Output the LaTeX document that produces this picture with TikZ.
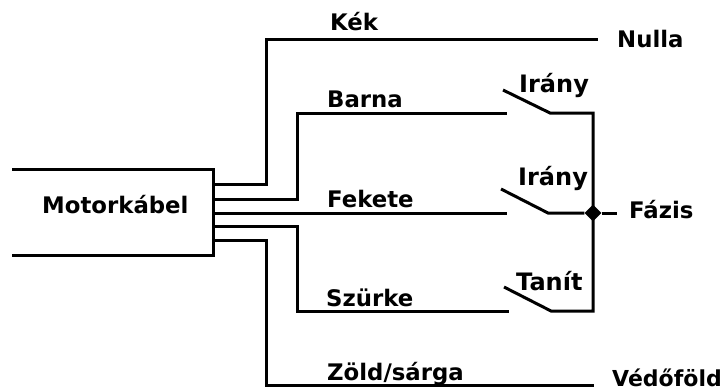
\documentclass[tikz,border=0pt]{standalone}
\usepackage{fontspec}
\setmainfont{DejaVu Sans}
\usetikzlibrary{shapes.geometric}
\tikzset{
    wire/.style={line width=3pt, line join=miter},
    lbl/.style={font=\fontsize{22.8}{26}\selectfont\bfseries, inner sep=0pt, anchor=base west},
    swlbl/.style={font=\fontsize{24}{28}\selectfont\bfseries, inner sep=0pt, anchor=base west},
    junction/.style={diamond, aspect=1, fill=black, inner sep=0pt, minimum size=17pt}
}
\begin{document}
\begin{tikzpicture}[x=1pt, y=-1pt]
    \useasboundingbox (0,0) rectangle (725,391);

    % Motor cable
    \coordinate (BoxTL) at (12,169);
    \coordinate (BoxTR) at (213,169);
    \coordinate (BoxBR) at (213,255);
    \coordinate (BoxBL) at (12,255);
    \draw[wire] (BoxTL) -- (BoxTR) -- (BoxBR) -- (BoxBL);
    \node (Motor) [lbl] at (42,213) {Motorkábel};

    % Free ends
    \coordinate (Nulla_end) at (598,39);
    \coordinate (Fazis_end) at (617,213);
    \coordinate (Fold_end) at (594,385);
    \node (Nulla) [lbl] at (617,47) {Nulla};
    \node (Fazis) [lbl] at (629,218) {Fázis};
    \node (Fold) [lbl, font=\fontsize{22}{26}\selectfont\bfseries] at (612,386) {Védőföld};

    % Wire labels
    \node (Kek) [lbl] at (330,30) {Kék};
    \node (Barna) [lbl] at (327,107) {Barna};
    \node (Fekete) [lbl] at (327,207) {Fekete};
    \node (Szurke) [lbl] at (326,306) {Szürke};
    \node (Zold) [lbl] at (327,380) {Zöld/sárga};

    % Switches
    \node (Irany1) [swlbl] at (519,92) {Irány};
    \node (Irany2) [swlbl] at (518,185) {Irány};
    \node (Tanit) [swlbl] at (516,290) {Tanít};
    \coordinate (S1a) at (507,113);
    \coordinate (S1b) at (503,90);
    \coordinate (S1c) at (550,113);
    \coordinate (S2a) at (507,213);
    \coordinate (S2b) at (501,189);
    \coordinate (S2c) at (548,213);
    \coordinate (S3a) at (509,311);
    \coordinate (S3b) at (504,287);
    \coordinate (S3c) at (551,311);

    % Common rail
    \coordinate (RailT) at (593,113);
    \coordinate (RailB) at (593,311);
    \node (Dot) [junction] at (593,213) {};

    % Wires from the cable
    \draw[wire] (213,184) -- (266,184) -- (266,39) -- (Nulla_end);
    \draw[wire] (213,199) -- (297,199) -- (297,113) -- (S1a);
    \draw[wire] (213,213) -- (S2a);
    \draw[wire] (213,226) -- (297,226) -- (297,311) -- (S3a);
    \draw[wire] (213,240) -- (266,240) -- (266,385) -- (Fold_end);

    % Switch blades and rail
    \draw[wire] (S1b) -- (S1c) -- (RailT) -- (RailB) -- (S3c) -- (S3b);
    \draw[wire] (S2b) -- (S2c) -- (Dot);
    \draw[wire] (Dot) -- (Fazis_end);
\end{tikzpicture}
\end{document}
